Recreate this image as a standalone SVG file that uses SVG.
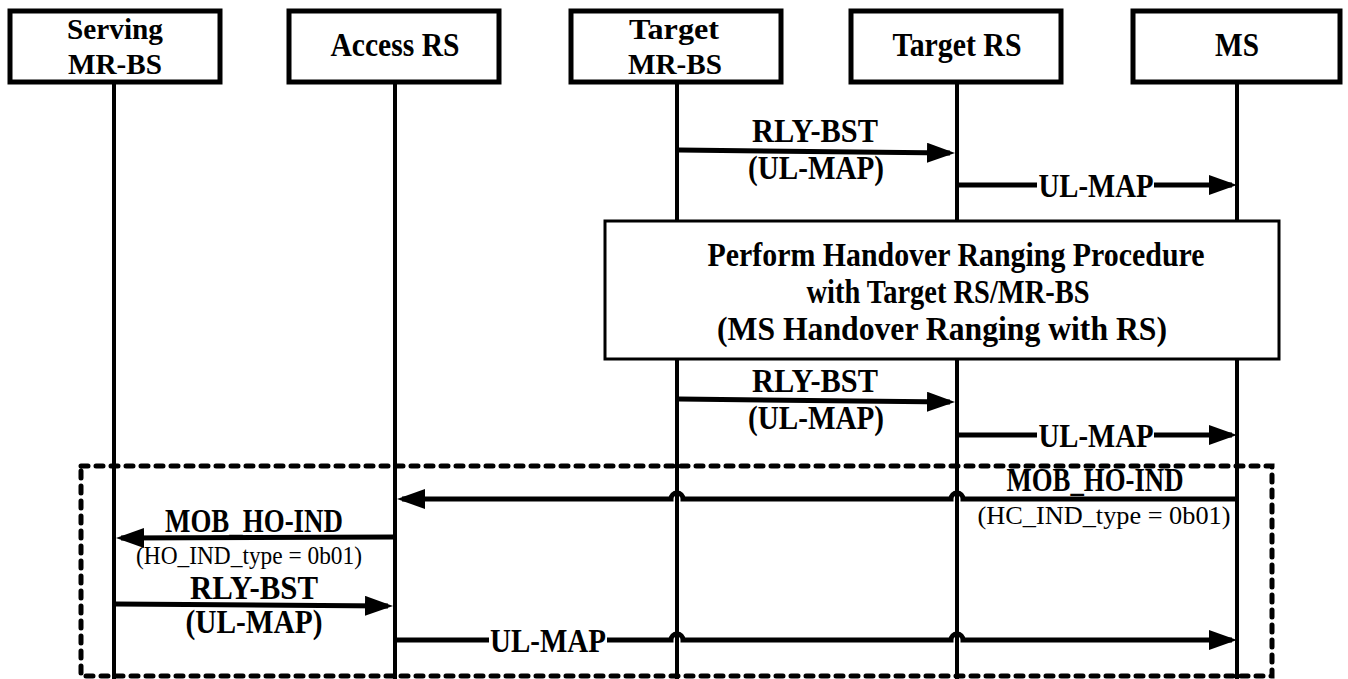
<svg xmlns="http://www.w3.org/2000/svg" width="1348" height="679" viewBox="0 0 1348 679">
  <style>
    .box { fill: #fff; stroke: #000; stroke-width: 5; }
    .life { stroke: #000; stroke-width: 4; fill: none; }
    .msg { stroke: #000; stroke-width: 5; fill: none; }
    .t { font-family: "Liberation Serif", "Times New Roman", serif; font-weight: bold; font-size: 33px; text-anchor: middle; fill: #000; }
    .h2 { font-size: 30px; }
    .s { font-family: "Liberation Serif", "Times New Roman", serif; font-weight: normal; font-size: 25px; text-anchor: middle; fill: #000; }
    .frame { fill: none; stroke: #000; stroke-width: 5; stroke-dasharray: 7 8; stroke-linecap: round; }
  </style>
  <defs>
    <marker id="head" markerUnits="userSpaceOnUse" markerWidth="30" markerHeight="22" refX="23" refY="10" orient="auto">
      <path d="M0,0 L28,10 L0,20 z" fill="#000"/>
    </marker>
  </defs>
  <rect width="1348" height="679" fill="#fff"/>

  <!-- lifelines -->
  <g id="lifelines">
    <line class="life" x1="114" y1="82" x2="114" y2="679"/>
    <line class="life" x1="395" y1="82" x2="395" y2="679"/>
    <line class="life" x1="677" y1="82" x2="677" y2="679"/>
    <line class="life" x1="957" y1="82" x2="957" y2="679"/>
    <line class="life" x1="1237" y1="82" x2="1237" y2="679"/>
  </g>

  <!-- participants -->
  <g id="serving-mrbs">
    <rect class="box" x="10" y="11" width="210" height="71"/>
    <text class="t h2" x="115" y="39" textLength="96" lengthAdjust="spacingAndGlyphs">Serving</text>
    <text class="t h2" x="115" y="74" textLength="94" lengthAdjust="spacingAndGlyphs">MR-BS</text>
  </g>
  <g id="access-rs">
    <rect class="box" x="289" y="11" width="210" height="71"/>
    <text class="t" x="395" y="56" textLength="129" lengthAdjust="spacingAndGlyphs">Access RS</text>
  </g>
  <g id="target-mrbs">
    <rect class="box" x="571" y="11" width="210" height="71"/>
    <text class="t h2" x="674" y="39" textLength="90" lengthAdjust="spacingAndGlyphs">Target</text>
    <text class="t h2" x="675" y="74" textLength="94" lengthAdjust="spacingAndGlyphs">MR-BS</text>
  </g>
  <g id="target-rs">
    <rect class="box" x="851" y="11" width="210" height="71"/>
    <text class="t" x="957" y="56" textLength="129" lengthAdjust="spacingAndGlyphs">Target RS</text>
  </g>
  <g id="ms">
    <rect class="box" x="1133" y="11" width="207" height="71"/>
    <text class="t" x="1237" y="56" textLength="44" lengthAdjust="spacingAndGlyphs">MS</text>
  </g>

  <!-- ranging procedure block -->
  <g id="ranging">
    <rect x="605" y="221" width="674" height="138" fill="#fff" stroke="#000" stroke-width="3"/>
    <text class="t" x="956" y="266" textLength="497" lengthAdjust="spacingAndGlyphs">Perform Handover Ranging Procedure</text>
    <text class="t" x="948" y="303" textLength="283" lengthAdjust="spacingAndGlyphs">with Target RS/MR-BS</text>
    <text class="t" x="942" y="340" textLength="450" lengthAdjust="spacingAndGlyphs">(MS Handover Ranging with RS)</text>
  </g>

  <!-- optional section frame -->
  <g id="frame">
    <rect class="frame" x="81" y="466" width="1191" height="210"/>
  </g>

  <!-- messages -->
  <g id="connectors">
    <!-- RLY-BST (UL-MAP) #1 -->
    <line class="msg" x1="679" y1="150" x2="950" y2="153" marker-end="url(#head)"/>
    <text class="t" x="815" y="142" textLength="126" lengthAdjust="spacingAndGlyphs">RLY-BST</text>
    <text class="t" x="816" y="179" textLength="136" lengthAdjust="spacingAndGlyphs">(UL-MAP)</text>
    <!-- UL-MAP #1 -->
    <line class="msg" x1="959" y1="185" x2="1037" y2="185"/>
    <line class="msg" x1="1154" y1="185" x2="1232" y2="185" marker-end="url(#head)"/>
    <text class="t" x="1096" y="197" textLength="115" lengthAdjust="spacingAndGlyphs">UL-MAP</text>

    <!-- RLY-BST (UL-MAP) #2 -->
    <line class="msg" x1="679" y1="399" x2="950" y2="402" marker-end="url(#head)"/>
    <text class="t" x="815" y="392" textLength="126" lengthAdjust="spacingAndGlyphs">RLY-BST</text>
    <text class="t" x="816" y="429" textLength="136" lengthAdjust="spacingAndGlyphs">(UL-MAP)</text>
    <!-- UL-MAP #2 -->
    <line class="msg" x1="959" y1="435" x2="1037" y2="435"/>
    <line class="msg" x1="1154" y1="435" x2="1232" y2="435" marker-end="url(#head)"/>
    <text class="t" x="1096" y="447" textLength="115" lengthAdjust="spacingAndGlyphs">UL-MAP</text>

    <!-- MOB_HO-IND MS -> Access RS -->
    <path class="msg" d="M1237,499 H963 A6,6 0 0 0 951,499 H683 A6,6 0 0 0 671,499 H402" marker-end="url(#head)"/>
    <text class="t" x="1095" y="491" font-size="28" textLength="177" lengthAdjust="spacingAndGlyphs">MOB_HO-IND</text>
    <text class="s" x="1104" y="524" textLength="253" lengthAdjust="spacingAndGlyphs">(HC_IND_type = 0b01)</text>

    <!-- MOB_HO-IND Access RS -> Serving MR-BS -->
    <line class="msg" x1="395" y1="537" x2="121" y2="538" marker-end="url(#head)"/>
    <text class="t" x="254" y="532" font-size="28" textLength="178" lengthAdjust="spacingAndGlyphs">MOB_HO-IND</text>
    <text class="s" x="249" y="564" textLength="226" lengthAdjust="spacingAndGlyphs">(HO_IND_type = 0b01)</text>

    <!-- RLY-BST (UL-MAP) #3 -->
    <line class="msg" x1="116" y1="604" x2="388" y2="606" marker-end="url(#head)"/>
    <text class="t" x="254" y="599" textLength="128" lengthAdjust="spacingAndGlyphs">RLY-BST</text>
    <text class="t" x="254" y="633" textLength="137" lengthAdjust="spacingAndGlyphs">(UL-MAP)</text>

    <!-- UL-MAP Access RS -> MS -->
    <path class="msg" d="M397,640 H489 M607,640 H671 A6,6 0 0 1 683,640 H951 A6,6 0 0 1 963,640 H1232" marker-end="url(#head)"/>
    <text class="t" x="548" y="652" textLength="116" lengthAdjust="spacingAndGlyphs">UL-MAP</text>
  </g>
</svg>
